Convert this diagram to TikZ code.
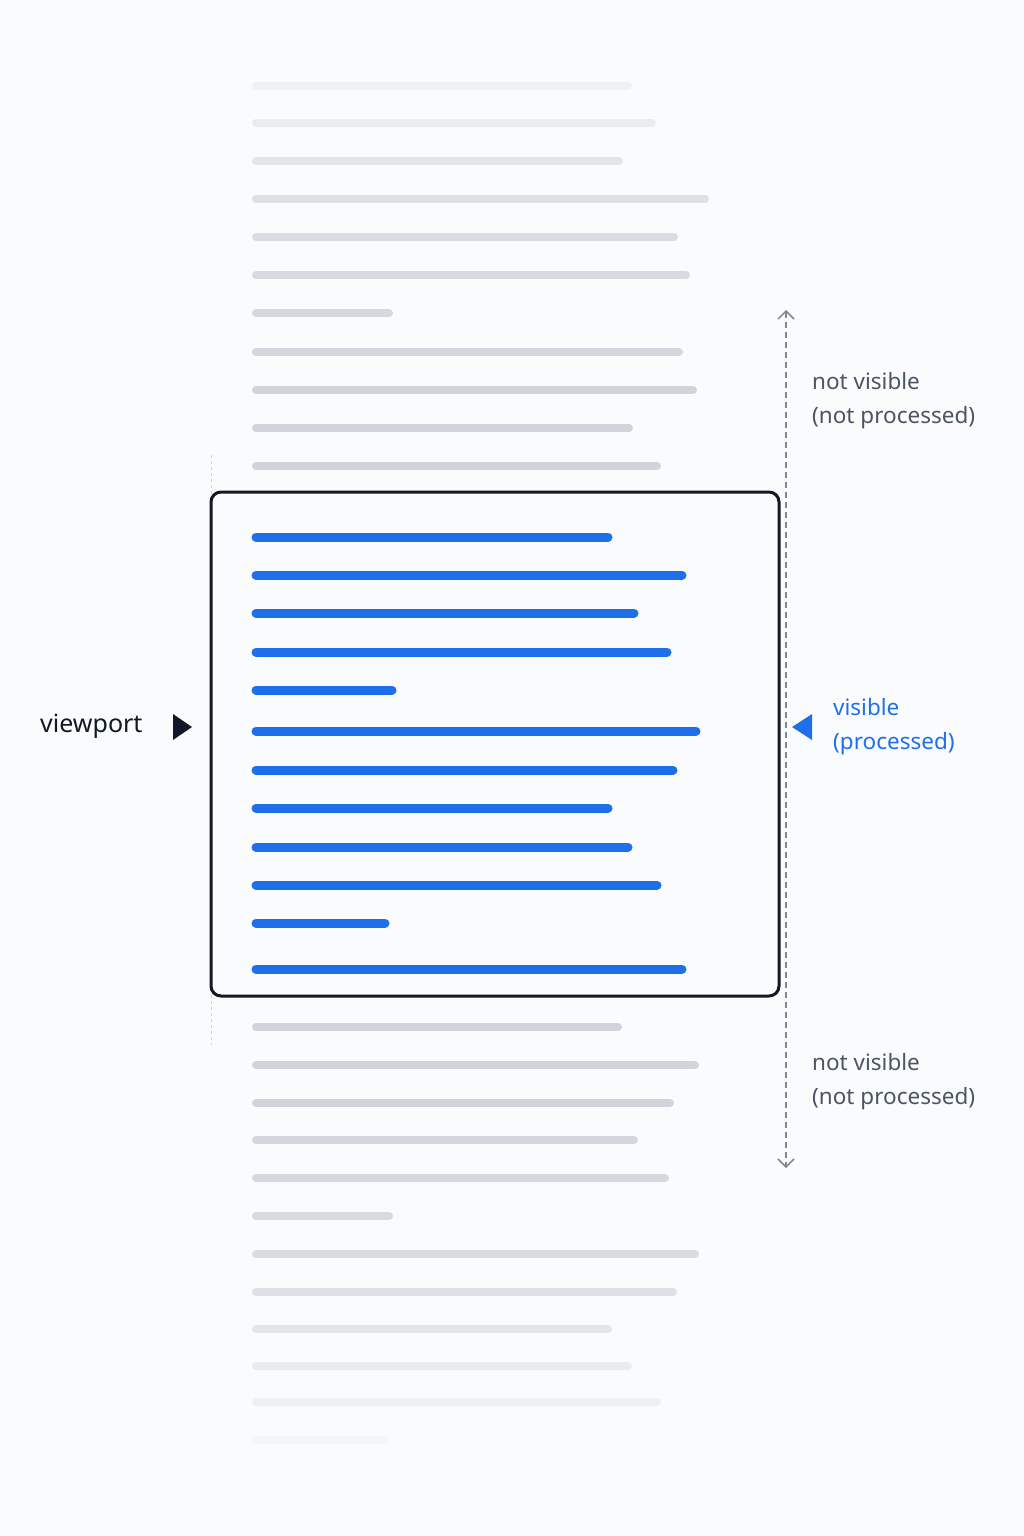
\documentclass[tikz,border=0pt]{standalone}
\usepackage{fontspec}
\setmainfont{Noto Sans}
\usetikzlibrary{arrows.meta}
\definecolor{bg}{HTML}{FAFBFC}
\definecolor{gl}{HTML}{D1D5DB}
\definecolor{bl}{HTML}{1F6FEB}
\definecolor{nv}{HTML}{111827}
\definecolor{tg}{HTML}{4B5563}
\tikzset{
 gline/.style={line width=8pt,line cap=round,draw=gl,shorten <=4pt,shorten >=4pt},
 bline/.style={line width=9pt,line cap=round,draw=bl,shorten <=4pt,shorten >=4pt},
 lbl/.style={font=\fontsize{22.5}{34}\selectfont,anchor=west,align=left,inner sep=0pt}
}
\begin{document}
\begin{tikzpicture}[x=1pt,y=-1pt]
\fill[bg] (0,0) rectangle (1024,1536);
\foreach \y/\e/\o in {86/632/0.25,123/656/0.4,161/623/0.55,199/709/0.7,237/678/0.8,275/690/0.85,313/393/0.9,352/683/0.95,390/697/1,428/633/1,466/661/1}
  \draw[gline,draw opacity=\o] (252,\y) -- (\e,\y);
\foreach \y/\e/\o in {1027/622/1,1065/699/1,1103/674/1,1140/638/0.95,1178/669/0.9,1216/393/0.85,1254/699/0.8,1292/677/0.7,1329/612/0.55,1366/632/0.4,1402/661/0.3,1440/389/0.15}
  \draw[gline,draw opacity=\o] (252,\y) -- (\e,\y);
\draw[gl,dashed] (211,455) -- (211,1045);
\coordinate (t) at (786,310);
\coordinate (b) at (786,1168);
\draw[tg!70,line width=1.5pt,dash pattern=on 6pt off 4pt,{Straight Barb[length=8pt,width=16pt]}-{Straight Barb[length=8pt,width=16pt]}] (t) -- (b);
\node[draw=nv,fill=bg,line width=3pt,rounded corners=10pt,minimum width=568pt,minimum height=504pt,inner sep=0pt] (vp) at (495,744) {};
\foreach \y/\e in {537/612,575/686,613/638,652/671,690/396,731/700,770/677,808/612,847/632,885/661,923/389,969/686}
  \draw[bline] (252,\y) -- (\e,\y);
\node[lbl,text=tg] (n1) at (812,401) {not visible\\(not processed)};
\node[lbl,text=tg] (n2) at (812,1082) {not visible\\(not processed)};
\node[lbl,text=bl] (v) at (833,727) {visible\\(processed)};
\node[lbl,text=nv,font=\fontsize{25}{28}\selectfont] (vw) at (40,726) {viewport};
\fill[nv] (173,714) -- (192,727) -- (173,740) -- cycle;
\fill[bl] (812,714) -- (792,727) -- (812,740) -- cycle;
\end{tikzpicture}
\end{document}
